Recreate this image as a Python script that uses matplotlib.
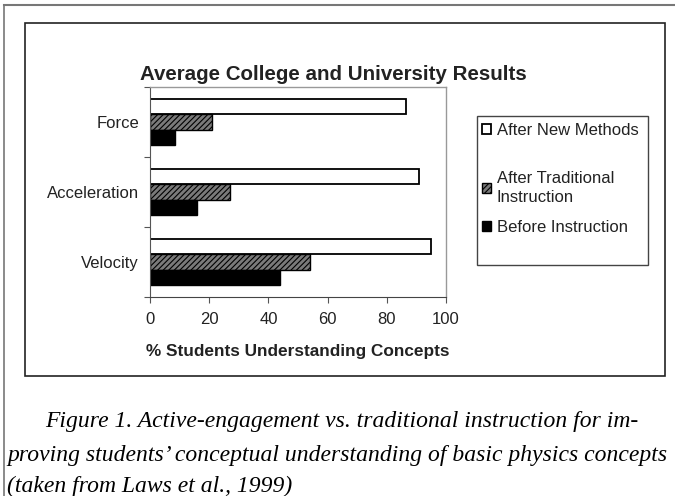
import matplotlib
matplotlib.use("Agg")
import matplotlib.pyplot as plt
from matplotlib.patches import Rectangle
from matplotlib.lines import Line2D
import numpy as np

# Data
categories = ["Velocity", "Acceleration", "Force"]
after_new = [95, 91, 86.5]
after_trad = [54, 27, 21]
before = [44, 16, 8.5]
series_labels = ["After New Methods", "After Traditional\nInstruction", "Before Instruction"]
x_ticks = [0, 20, 40, 60, 80, 100]

W, H = 675, 496
fig = plt.figure(figsize=(W / 100, H / 100), dpi=100)
plt.rcParams['font.family'] = ['Liberation Sans', 'DejaVu Sans']
plt.rcParams['hatch.linewidth'] = 0.8


def fx(px):
    return px / W


def fy(py):
    return 1 - py / H


# Page frame lines and chart box
fig.add_artist(Line2D([fx(4), fx(675)], [fy(5), fy(5)], color="#777777", lw=1.5))
fig.add_artist(Line2D([fx(4), fx(4)], [fy(5), fy(496)], color="#777777", lw=1.2))
fig.add_artist(Rectangle((fx(25), fy(376)), fx(640), 353 / H, fill=False,
                         edgecolor="#222222", lw=1.2))

ax = fig.add_axes([fx(150), fy(297), fx(296), 210 / H])

y = np.arange(len(categories))
h = 0.22
b1 = ax.barh(y + h, after_new, height=h, color="white", edgecolor="black", lw=1.3,
             label=series_labels[0])
b2 = ax.barh(y, after_trad, height=h, color="#7a7a7a", edgecolor="black", lw=1.0,
             hatch="//////", label=series_labels[1])
b3 = ax.barh(y - h, before, height=h, color="black", edgecolor="black", lw=1.0,
             label=series_labels[2])

ax.set_xlim(0, 100)
ax.set_ylim(-0.5, 2.5)
ax.set_xticks(x_ticks)
ax.set_xticklabels([str(t) for t in x_ticks], fontsize=12, color="#222222")
ax.set_yticks([-0.5, 0.5, 1.5, 2.5])
ax.set_yticklabels([])
ax.set_yticks(y, minor=True)
ax.set_yticklabels(categories, minor=True, fontsize=12, color="#222222")
ax.tick_params(axis="y", which="minor", length=0, pad=8)
ax.tick_params(axis="y", which="major", length=4, color="#555555")
ax.tick_params(axis="x", length=4, color="#555555", pad=7)

for side in ["top", "right"]:
    ax.spines[side].set_color("#999999")
    ax.spines[side].set_linewidth(1.0)
ax.spines["left"].set_color("#555555")
ax.spines["bottom"].set_color("#444444")

ax.set_xlabel("% Students Understanding Concepts", fontsize=12.4, fontweight="bold",
              color="#222222", labelpad=12)

fig.text(fx(333), fy(75), "Average College and University Results", ha="center",
         va="center", fontsize=14.8, fontweight="bold", color="#222222")

# Legend: frame plus one entry per series
fig.add_artist(Rectangle((fx(477), fy(265)), fx(171), 149 / H, fill=False,
                         edgecolor="#444444", lw=1.0))
entry_tops = [123, 171, 220]
for handle, top in zip([b1, b2, b3], entry_tops):
    leg = fig.legend(handles=[handle], loc="upper left",
                     bbox_to_anchor=(fx(482), fy(top)), frameon=False, fontsize=12,
                     handlelength=0.55, handleheight=0.55, handletextpad=0.35,
                     borderpad=0, borderaxespad=0)
    for t in leg.get_texts():
        t.set_color("#222222")
        t.set_linespacing(1.35)

cap = dict(family=["Liberation Serif", "DejaVu Serif"], style="italic", fontsize=17,
           color="black", va="center")
fig.text(fx(45), fy(422), "Figure 1. Active-engagement vs. traditional instruction for im-", **cap)
fig.text(fx(7), fy(455), "proving students\u2019 conceptual understanding of basic physics concepts", **cap)
fig.text(fx(7), fy(486), "(taken from Laws et al., 1999)", **cap)

fig.savefig("out.png", dpi=100)
